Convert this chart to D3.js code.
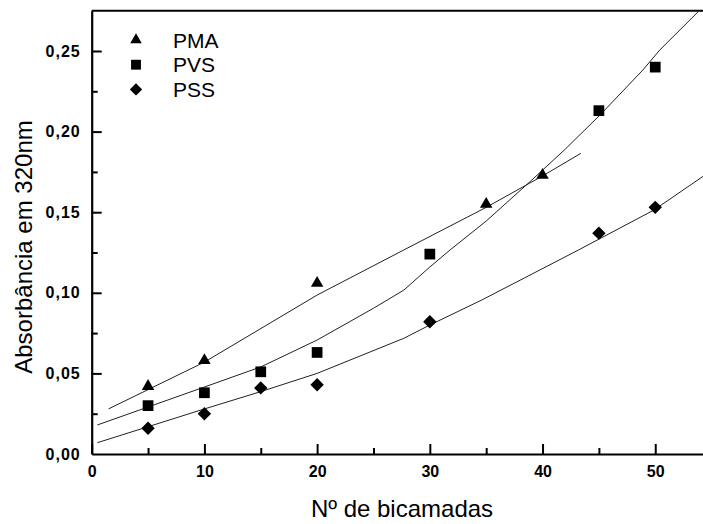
<!DOCTYPE html>
<html>
<head>
<meta charset="utf-8">
<script src="https://cdn.jsdelivr.net/npm/d3@7"></script>
<style>
  body { margin: 0; background: #fff; }
  svg { display: block; font-family: "Liberation Sans", Arial, sans-serif; }
</style>
</head>
<body>
<svg width="703" height="524"></svg>
<script>
// measured points
var pmaX = [5, 10, 20, 35, 40];
var pmaY = [0.042, 0.058, 0.106, 0.155, 0.173];
var pvsX = [5, 10, 15, 20, 30, 45, 50];
var pvsY = [0.030, 0.038, 0.051, 0.063, 0.124, 0.213, 0.240];
var pssX = [5, 10, 15, 20, 30, 45, 50];
var pssY = [0.016, 0.025, 0.041, 0.043, 0.082, 0.137, 0.153];

// fitted curves
var pmaFitX = [1.5, 10, 20, 27.7, 35, 40, 43.4];
var pmaFitY = [0.028, 0.057, 0.0986, 0.1266, 0.153, 0.1725, 0.1865];
var pvsFitX = [0.5, 9.7, 15, 20, 25, 27.7, 30, 31.8, 35, 38.9, 42, 45.1, 48.9, 50.4, 53.9];
var pvsFitY = [0.018, 0.0408, 0.054, 0.0707, 0.0904, 0.1017, 0.116, 0.1266, 0.1445, 0.169, 0.189, 0.2103, 0.2382, 0.2506, 0.275];
var pssFitX = [0.5, 9.7, 15, 20, 27.7, 30, 34.6, 43.2, 49.9, 54.4];
var pssFitY = [0.007, 0.0273, 0.0387, 0.05, 0.0718, 0.08, 0.0955, 0.1266, 0.1514, 0.173];

var seriesNames = ["PMA", "PVS", "PSS"];
var xTicks = [0, 10, 20, 30, 40, 50];
var xMinor = [5, 15, 25, 35, 45];
var yTicks = [0, 0.05, 0.10, 0.15, 0.20, 0.25];
var yMinor = [0.025, 0.075, 0.125, 0.175, 0.225];

var svg = d3.select("svg"),
    width = +svg.attr("width"),
    height = +svg.attr("height");

var x = d3.scaleLinear().domain([0, 55]).range([91.7, 711.6]);
var y = d3.scaleLinear().domain([0, 0.275]).range([454, 10.7]);

var comma = function (d) { return d3.format(".2f")(d).replace(".", ","); };

// minor ticks first
svg.append("g")
    .attr("transform", "translate(0," + y(0) + ")")
    .call(d3.axisBottom(x).tickValues(xMinor).tickSize(-6).tickFormat(""))
    .call(function (g) { g.select(".domain").remove(); })
    .selectAll("line").attr("stroke-width", 2);
svg.append("g")
    .attr("transform", "translate(" + x(0) + ",0)")
    .call(d3.axisLeft(y).tickValues(yMinor).tickSize(-6).tickFormat(""))
    .call(function (g) { g.select(".domain").remove(); })
    .selectAll("line").attr("stroke-width", 2);

// major axes
var xAxis = svg.append("g")
    .attr("transform", "translate(0," + y(0) + ")")
    .call(d3.axisBottom(x).tickValues(xTicks).tickSize(-10).tickSizeOuter(0).tickPadding(12).tickFormat(d3.format("d")));
var yAxis = svg.append("g")
    .attr("transform", "translate(" + x(0) + ",0)")
    .call(d3.axisLeft(y).tickValues(yTicks).tickSize(-10).tickSizeOuter(0).tickPadding(11).tickFormat(comma));

[xAxis, yAxis].forEach(function (g) {
  g.select(".domain").attr("stroke-width", 2.2);
  g.selectAll(".tick line").attr("stroke-width", 2);
  g.selectAll("text")
      .attr("font-size", 16)
      .attr("font-weight", "bold")
      .attr("fill", "#000")
      .attr("font-family", "Liberation Sans, Arial, sans-serif");
});
yAxis.selectAll("text").attr("letter-spacing", 1);
yAxis.selectAll(".tick").filter(function (d) { return d === 0; }).select("line").remove();

// top frame line
svg.append("line")
    .attr("x1", x(0)).attr("x2", width)
    .attr("y1", y(0.275)).attr("y2", y(0.275))
    .attr("stroke", "#000").attr("stroke-width", 2);

// fitted lines
var line = d3.line()
    .x(function (d) { return x(d[0]); })
    .y(function (d) { return y(d[1]); });
[[pmaFitX, pmaFitY], [pvsFitX, pvsFitY], [pssFitX, pssFitY]].forEach(function (s) {
  svg.append("path")
      .datum(d3.zip(s[0], s[1]))
      .attr("fill", "none")
      .attr("stroke", "#222")
      .attr("stroke-width", 1)
      .attr("d", line);
});

// markers (diamond = square turned 45deg)
var symbols = [d3.symbolTriangle, d3.symbolSquare, d3.symbolSquare];
var rotate = [0, 0, 45];
var sizes = [68, 115, 90];
var pts = [[pmaX, pmaY], [pvsX, pvsY], [pssX, pssY]];
pts.forEach(function (s, i) {
  svg.append("g")
    .selectAll("path")
    .data(d3.zip(s[0], s[1]))
    .enter().append("path")
      .attr("transform", function (d) { return "translate(" + x(d[0]) + "," + y(d[1]) + ") rotate(" + rotate[i] + ")"; })
      .attr("d", d3.symbol().type(symbols[i]).size(sizes[i]))
      .attr("fill", "#000");
});

// legend
var legend = svg.append("g").attr("transform", "translate(136,40)");
seriesNames.forEach(function (name, i) {
  legend.append("path")
      .attr("transform", "translate(0," + (i * 24.7) + ") rotate(" + rotate[i] + ")")
      .attr("d", d3.symbol().type(symbols[i]).size(sizes[i] * 0.85))
      .attr("fill", "#000");
  legend.append("text")
      .attr("x", 37)
      .attr("y", i * 24.7 + 7.7)
      .attr("font-size", 21)
      .attr("fill", "#000")
      .text(name);
});

// axis titles
svg.append("text")
    .attr("x", 402)
    .attr("y", 517)
    .attr("text-anchor", "middle")
    .attr("font-size", 24)
    .attr("fill", "#000")
    .text("Nº de bicamadas");

svg.append("text")
    .attr("transform", "translate(32,247) rotate(-90)")
    .attr("text-anchor", "middle")
    .attr("font-size", 24)
    .attr("fill", "#000")
    .text("Absorbância em 320nm");
</script>
</body>
</html>
